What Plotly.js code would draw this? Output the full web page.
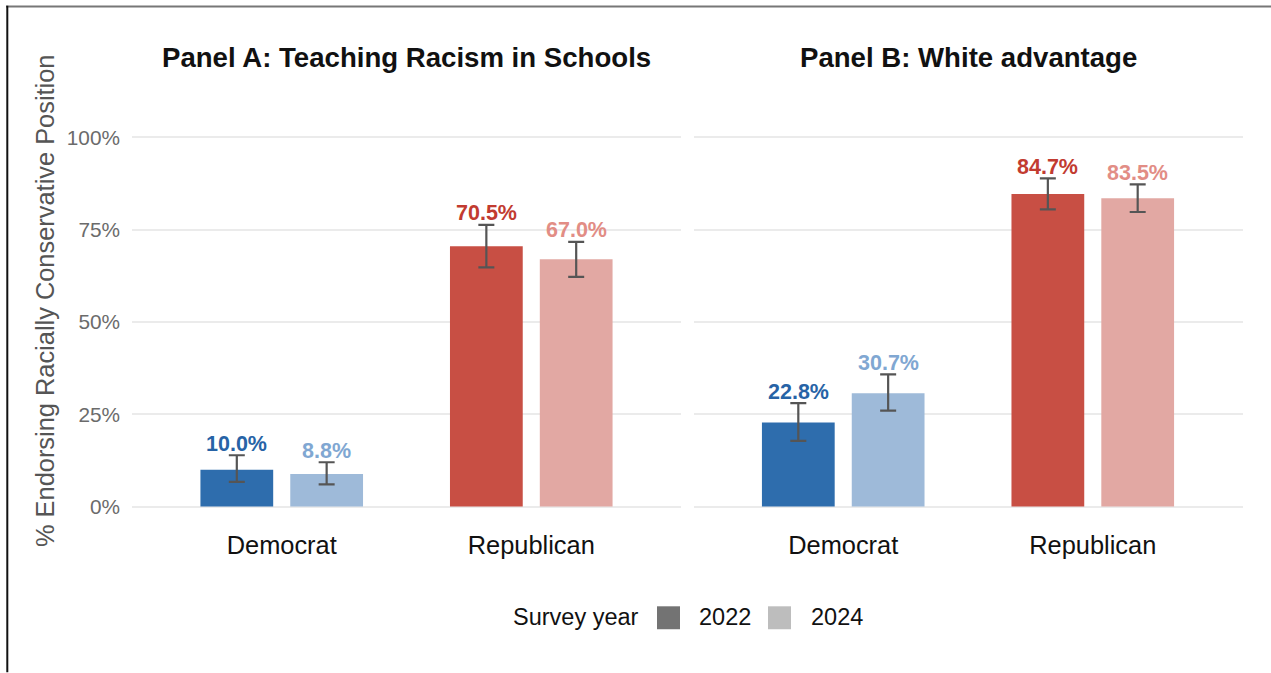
<!DOCTYPE html>
<html>
<head>
<meta charset="utf-8">
<script src="https://cdn.plot.ly/plotly-3.0.1.min.js"></script>
<style>html,body{margin:0;padding:0;background:#fff;}#chart{width:1271px;height:673px;}</style>
</head>
<body>
<div id="chart"></div>
<script>
// ---- data ----
const categories = ['Democrat', 'Republican'];
const years = ['2022', '2024'];
const panelTitles = ['Panel A: Teaching Racism in Schools', 'Panel B: White advantage'];

const panelA_2022 = [10.0, 70.5];
const panelA_2024 = [8.8, 67.0];
const panelA_2022_lower = [6.7, 64.8];
const panelA_2022_upper = [13.9, 76.3];
const panelA_2024_lower = [6.0, 62.2];
const panelA_2024_upper = [12.0, 71.7];

const panelB_2022 = [22.8, 84.7];
const panelB_2024 = [30.7, 83.5];
const panelB_2022_lower = [17.8, 80.5];
const panelB_2022_upper = [28.0, 88.9];
const panelB_2024_lower = [26.0, 79.8];
const panelB_2024_upper = [35.8, 87.3];

const yTicks = [0, 25, 50, 75, 100];

// ---- styles ----
const barColors = {'2022': ['#2e6dad', '#c84f44'], '2024': ['#9ebad9', '#e2a8a3']};
const labelColors = {'2022': ['#2763a6', '#c23b30'], '2024': ['#80a7d2', '#e28d85']};
const legendColors = {'2022': '#737373', '2024': '#bdbdbd'};
const FONT = 'Liberation Sans, Arial, sans-serif';

const panels = [
  {xa: 'x', ya: 'y', v: {'2022': panelA_2022, '2024': panelA_2024},
   lo: {'2022': panelA_2022_lower, '2024': panelA_2024_lower},
   hi: {'2022': panelA_2022_upper, '2024': panelA_2024_upper}},
  {xa: 'x2', ya: 'y2', v: {'2022': panelB_2022, '2024': panelB_2024},
   lo: {'2022': panelB_2022_lower, '2024': panelB_2024_lower},
   hi: {'2022': panelB_2022_upper, '2024': panelB_2024_upper}}
];

const traces = [];
const annotations = [];
const W = 1271, H = 673;
const plotTop = 118.5, plotBottom = 525.5;
const py = p => (plotBottom - p) / (plotBottom - plotTop);
const px = p => p / W;

panels.forEach((pn, pi) => {
  years.forEach((yr, yi) => {
    const vals = pn.v[yr];
    traces.push({
      type: 'bar', x: categories, y: vals, xaxis: pn.xa, yaxis: pn.ya,
      name: yr, showlegend: false, hoverinfo: 'skip',
      marker: {color: barColors[yr], line: {width: 0}},
      error_y: {type: 'data', symmetric: false,
        array: vals.map((v, i) => pn.hi[yr][i] - v),
        arrayminus: vals.map((v, i) => v - pn.lo[yr][i]),
        color: '#555555', thickness: 2.2, width: 8}
    });
    vals.forEach((v, i) => {
      annotations.push({
        xref: pn.xa, yref: pn.ya, x: i + (yi === 0 ? -0.18 : 0.18), y: pn.hi[yr][i],
        text: '<b>' + v.toFixed(1) + '%</b>', showarrow: false, yanchor: 'bottom', xanchor: 'center',
        yshift: -2.5,
        font: {family: FONT, size: 21.5, color: labelColors[yr][i]}
      });
    });
  });
  annotations.push({
    xref: 'paper', yref: 'paper', x: pi === 0 ? px(407) : px(968), y: py(57),
    text: '<b>' + panelTitles[pi] + '</b>', showarrow: false, xanchor: 'center', yanchor: 'middle',
    font: {family: FONT, size: 27.6, color: '#111111'}
  });
});

// y axis title
annotations.push({
  xref: 'paper', yref: 'paper', x: px(45), y: py(301), textangle: -90,
  text: '% Endorsing Racially Conservative Position', showarrow: false,
  xanchor: 'center', yanchor: 'middle', font: {family: FONT, size: 25.4, color: '#555555'}
});

// manual legend
const legendFont = {family: FONT, size: 23.5, color: '#111'};
annotations.push({xref: 'paper', yref: 'paper', x: px(511), y: py(618), text: 'Survey year',
  showarrow: false, xanchor: 'left', yanchor: 'middle', font: legendFont});
annotations.push({xref: 'paper', yref: 'paper', x: px(697), y: py(618), text: years[0],
  showarrow: false, xanchor: 'left', yanchor: 'middle', font: legendFont});
annotations.push({xref: 'paper', yref: 'paper', x: px(809), y: py(618), text: years[1],
  showarrow: false, xanchor: 'left', yanchor: 'middle', font: legendFont});

const shapes = [
  {type: 'rect', xref: 'paper', yref: 'paper', x0: px(657), x1: px(680), y0: py(607), y1: py(630),
   fillcolor: legendColors['2022'], line: {width: 0}},
  {type: 'rect', xref: 'paper', yref: 'paper', x0: px(768), x1: px(791), y0: py(607), y1: py(630),
   fillcolor: legendColors['2024'], line: {width: 0}},
  {type: 'line', xref: 'paper', yref: 'paper', x0: px(6), x1: px(1271), y0: py(5.8), y1: py(5.8),
   line: {color: '#777777', width: 2}},
  {type: 'line', xref: 'paper', yref: 'paper', x0: px(7.3), x1: px(7.3), y0: py(5), y1: py(673),
   line: {color: '#111111', width: 2}}
];

const yaxisBase = {range: [-5, 105], tickvals: yTicks, ticktext: yTicks.map(t => t + '%'),
  showgrid: true, gridcolor: '#ebebeb', gridwidth: 2, zeroline: false, showline: false,
  ticks: '', fixedrange: true};
const xaxisBase = {type: 'category', range: [-0.6, 1.6], showgrid: false, zeroline: false,
  showline: false, ticks: '', tickfont: {family: FONT, size: 25.4, color: '#111'}, ticklabelstandoff: 3};

const layout = {
  width: W, height: H,
  margin: {l: 0, r: 0, t: plotTop, b: H - plotBottom},
  paper_bgcolor: '#ffffff', plot_bgcolor: '#ffffff',
  barmode: 'group', bargap: 0.28, bargroupgap: 0.19,
  showlegend: false,
  xaxis: Object.assign({}, xaxisBase, {domain: [132 / W, 681 / W], anchor: 'y'}),
  xaxis2: Object.assign({}, xaxisBase, {domain: [693.5 / W, 1242.5 / W], anchor: 'y2'}),
  yaxis: Object.assign({}, yaxisBase, {anchor: 'x', showticklabels: true,
    tickfont: {family: FONT, size: 20.8, color: '#6b6b6b'}, ticklabelstandoff: 11}),
  yaxis2: Object.assign({}, yaxisBase, {anchor: 'x2', matches: 'y', showticklabels: false}),
  annotations: annotations,
  shapes: shapes,
  font: {family: FONT}
};

Plotly.newPlot('chart', traces, layout, {staticPlot: true, displayModeBar: false});
</script>
</body>
</html>
